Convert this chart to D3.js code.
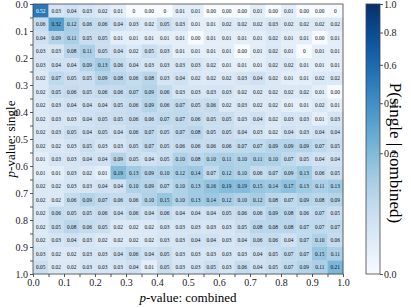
<!DOCTYPE html>
<html>
<head>
<meta charset="utf-8">
<script src="https://cdn.jsdelivr.net/npm/d3@7"></script>
<style>
  body { margin: 0; background: #fff; }
  text { font-family: "Liberation Serif", "DejaVu Serif", serif; }
</style>
</head>
<body>
<div id="chart"></div>
<script>
// bins of p-value (combined on x, single on y)
var bins = d3.range(20).map(function(i){ return i * 0.05; });
var tickLabels = ["0.0","0.1","0.2","0.3","0.4","0.5","0.6","0.7","0.8","0.9","1.0"];
var cbarTicks = [0, 0.2, 0.4, 0.6, 0.8, 1.0];

// cell values, row = single bin, col = combined bin
var row0  = ["0.52","0.03","0.04","0.03","0.02","0.01","0","0.00","0","0.01","0.01","0.00","0.00","0.00","0.01","0.00","0.01","0.00","0.00","0"];
var row1  = ["0.06","0.32","0.12","0.06","0.06","0.04","0.03","0.02","0.05","0.03","0.01","0.01","0.02","0.02","0.02","0.03","0.02","0.02","0.02","0.02"];
var row2  = ["0.04","0.09","0.11","0.05","0.05","0.01","0.01","0.01","0.01","0.01","0.00","0.01","0.01","0.01","0.01","0.02","0.01","0.01","0.00","0.01"];
var row3  = ["0.03","0.03","0.08","0.11","0.05","0.04","0.02","0.05","0.03","0.01","0.01","0.01","0.01","0.00","0.01","0.02","0.01","0","0.01","0.01"];
var row4  = ["0.03","0.04","0.04","0.09","0.13","0.06","0.04","0.03","0.03","0.03","0.03","0.02","0.01","0.01","0.01","0.02","0.02","0.01","0.01","0.01"];
var row5  = ["0.02","0.07","0.05","0.05","0.09","0.08","0.06","0.08","0.03","0.04","0.02","0.02","0.02","0.03","0.04","0.02","0.01","0.01","0.02","0.02"];
var row6  = ["0.02","0.05","0.06","0.05","0.06","0.06","0.07","0.09","0.06","0.03","0.03","0.03","0.03","0.02","0.02","0.02","0.02","0.02","0.01","0.00"];
var row7  = ["0.02","0.03","0.04","0.04","0.04","0.05","0.06","0.09","0.06","0.07","0.05","0.06","0.02","0.03","0.02","0.02","0.01","0.01","0.02","0.01"];
var row8  = ["0.02","0.03","0.03","0.04","0.05","0.05","0.06","0.06","0.07","0.07","0.06","0.05","0.05","0.03","0.04","0.02","0.03","0.03","0.01","0.03"];
var row9  = ["0.02","0.03","0.05","0.04","0.05","0.04","0.06","0.07","0.05","0.07","0.08","0.05","0.05","0.04","0.03","0.02","0.04","0.03","0.04","0.04"];
var row10 = ["0.02","0.02","0.03","0.05","0.03","0.03","0.05","0.07","0.05","0.06","0.06","0.06","0.06","0.07","0.07","0.09","0.09","0.09","0.07","0.05"];
var row11 = ["0.01","0.03","0.03","0.04","0.04","0.09","0.05","0.04","0.05","0.10","0.08","0.10","0.11","0.10","0.11","0.10","0.07","0.05","0.04","0.04"];
var row12 = ["0.01","0.01","0.03","0.02","0.01","0.19","0.13","0.09","0.10","0.12","0.14","0.07","0.12","0.10","0.06","0.07","0.09","0.13","0.06","0.05"];
var row13 = ["0.02","0.02","0.03","0.03","0.04","0.04","0.10","0.09","0.07","0.10","0.13","0.16","0.19","0.19","0.15","0.14","0.17","0.13","0.11","0.13"];
var row14 = ["0.02","0.02","0.06","0.09","0.07","0.06","0.06","0.10","0.15","0.10","0.13","0.14","0.12","0.10","0.12","0.08","0.07","0.09","0.08","0.09"];
var row15 = ["0.02","0.06","0.05","0.05","0.06","0.04","0.06","0.04","0.06","0.04","0.04","0.04","0.05","0.06","0.06","0.09","0.08","0.06","0.07","0.05"];
var row16 = ["0.02","0.05","0.08","0.06","0.05","0.02","0.02","0.02","0.03","0.03","0.03","0.03","0.03","0.05","0.08","0.08","0.08","0.07","0.07","0.07"];
var row17 = ["0.02","0.03","0.04","0.03","0.02","0.02","0.02","0.02","0.03","0.03","0.04","0.04","0.03","0.04","0.06","0.06","0.04","0.07","0.10","0.06"];
var row18 = ["0.03","0.02","0.02","0.03","0.03","0.04","0.06","0.04","0.05","0.03","0.03","0.03","0.03","0.03","0.04","0.05","0.07","0.07","0.15","0.11"];
var row19 = ["0.05","0.02","0.02","0.03","0.03","0.03","0.04","0.01","0.05","0.03","0.03","0.05","0.03","0.06","0.04","0.05","0.07","0.09","0.11","0.21"];
var rows = [row0,row1,row2,row3,row4,row5,row6,row7,row8,row9,row10,row11,row12,row13,row14,row15,row16,row17,row18,row19];

(function(){
  var width = 411, height = 308;
  var pl = 33, pr = 343, pt = 4, pb = 274;

  var svg = d3.select("#chart").append("svg")
    .attr("width", width)
    .attr("height", height);

  var x = d3.scaleLinear().domain([0, 1]).range([pl, pr]);
  var y = d3.scaleLinear().domain([0, 1]).range([pt, pb]);
  // power norm (gamma 0.5) feeding the Blues map
  var norm = d3.scalePow().exponent(0.5).domain([0, 1]).range([0, 1]);
  var color = function(v){ return d3.interpolateBlues(norm(v)); };

  var cells = [];
  rows.forEach(function(r, i){
    r.forEach(function(s, j){
      cells.push({ i: i, j: j, label: s, v: +s });
    });
  });

  svg.append("g").selectAll("rect")
    .data(cells)
    .enter().append("rect")
    .attr("x", function(d){ return x(bins[d.j]); })
    .attr("y", function(d){ return y(bins[d.i]); })
    .attr("width", x(0.05) - x(0) + 0.3)
    .attr("height", y(0.05) - y(0) + 0.3)
    .attr("fill", function(d){ return color(d.v); });

  svg.append("g").selectAll("text")
    .data(cells)
    .enter().append("text")
    .attr("x", function(d){ return x(bins[d.j] + 0.025); })
    .attr("y", function(d){ return y(bins[d.i] + 0.025); })
    .attr("dy", "0.35em")
    .attr("text-anchor", "middle")
    .attr("font-size", 5.4)
    .attr("fill", function(d){ return d.v > 0.4 ? "#fff" : "#111"; })
    .text(function(d){ return d.label; });

  // axes, ticks every 0.05, labels every 0.1
  var tickVals = d3.range(21).map(function(k){ return k * 0.05; });
  function fmt(d){
    var k = Math.round(d * 20);
    return k % 2 === 0 ? tickLabels[k / 2] : "";
  }

  var xAxis = svg.append("g")
    .attr("transform", "translate(0," + pb + ")")
    .call(d3.axisBottom(x).tickValues(tickVals).tickFormat(fmt).tickSize(3).tickPadding(2));
  var yAxis = svg.append("g")
    .attr("transform", "translate(" + pl + ",0)")
    .call(d3.axisLeft(y).tickValues(tickVals).tickFormat(fmt).tickSize(3).tickPadding(2));

  [xAxis, yAxis].forEach(function(a){
    a.selectAll("text").attr("font-size", 10).attr("fill", "#222")
      .style("font-family", "'Liberation Serif', serif");
    a.selectAll("line").attr("stroke", "#555");
    a.select(".domain").remove();
  });

  // frame
  svg.append("rect")
    .attr("x", pl).attr("y", pt)
    .attr("width", pr - pl).attr("height", pb - pt)
    .attr("fill", "none").attr("stroke", "#444").attr("stroke-width", 0.8);

  svg.append("text")
    .attr("x", (pl + pr) / 2).attr("y", 302)
    .attr("text-anchor", "middle").attr("font-size", 13)
    .html('<tspan font-style="italic">p</tspan>-value: combined');

  svg.append("text")
    .attr("transform", "translate(15," + ((pt + pb) / 2) + ") rotate(-90)")
    .attr("text-anchor", "middle").attr("font-size", 13)
    .html('<tspan font-style="italic">p</tspan>-value: single');

  // colorbar, uniform colormap with power-spaced ticks
  var cbX = 366, cbW = 14;
  var cy = d3.scalePow().exponent(0.5).domain([0, 1]).range([pb, pt]);
  var grad = svg.append("defs").append("linearGradient").attr("id", "cbar")
    .attr("x1", 0).attr("y1", 1).attr("x2", 0).attr("y2", 0);
  d3.range(0, 1.0001, 0.05).forEach(function(t){
    grad.append("stop").attr("offset", t).attr("stop-color", d3.interpolateBlues(t));
  });
  svg.append("rect")
    .attr("x", cbX).attr("y", pt)
    .attr("width", cbW).attr("height", pb - pt)
    .attr("fill", "url(#cbar)")
    .attr("stroke", "#444").attr("stroke-width", 0.8);

  var cAxis = svg.append("g")
    .attr("transform", "translate(" + (cbX + cbW) + ",0)")
    .call(d3.axisRight(cy).tickValues(cbarTicks).tickFormat(d3.format(".1f")).tickSize(3).tickPadding(1));
  cAxis.select(".domain").remove();
  cAxis.selectAll("text").attr("font-size", 10).attr("fill", "#222")
    .style("font-family", "'Liberation Serif', serif");
  cAxis.selectAll("line").attr("stroke", "#555");

  svg.append("text")
    .attr("transform", "translate(390,153) rotate(90)")
    .attr("text-anchor", "middle").attr("font-size", 17)
    .text("P(single | combined)");
})();
</script>
</body>
</html>
